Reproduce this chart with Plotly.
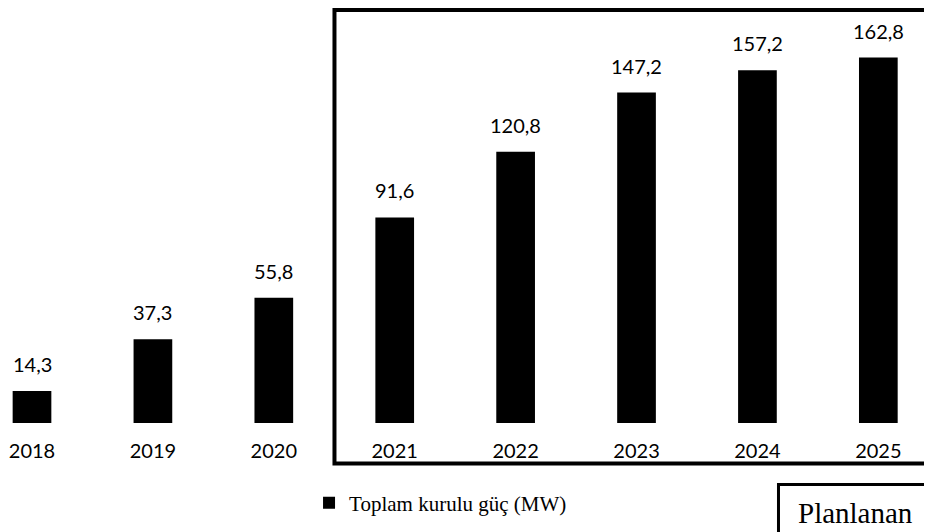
import plotly.graph_objects as go

years = ["2018", "2019", "2020", "2021", "2022", "2023", "2024", "2025"]
values = [14.3, 37.3, 55.8, 91.6, 120.8, 147.2, 157.2, 162.8]
labels = ["14,3", "37,3", "55,8", "91,6", "120,8", "147,2", "157,2", "162,8"]
series_name = "Toplam kurulu güç (MW)"
box_label = "Planlanan"

SANS = "Lato, Open Sans, sans-serif"
SERIF = "Liberation Serif, Times New Roman, serif"

fig = go.Figure()
fig.add_trace(go.Bar(
    x=years, y=values,
    marker=dict(color="black", line=dict(width=0)),
    width=0.32, name=series_name, showlegend=True,
))

# value labels above each bar (category index positions on the x axis)
for i, (v, t) in enumerate(zip(values, labels)):
    fig.add_annotation(x=i, y=v, xref="x", yref="y", text=t, showarrow=False,
                       yanchor="bottom", xanchor="center", yshift=13,
                       font=dict(family=SANS, size=20, color="black"))

fig.update_layout(
    width=932, height=532,
    margin=dict(l=0, r=0, t=0, b=117),
    plot_bgcolor="white", paper_bgcolor="white",
    xaxis=dict(type="category", range=[-0.1985, 7.51], showgrid=False, zeroline=False,
               showline=False, ticks="", ticklabelstandoff=14,
               tickfont=dict(family=SANS, size=20, color="black")),
    yaxis=dict(range=[0, 184.9], showticklabels=False, showgrid=False,
               zeroline=False, showline=False, ticks=""),
    showlegend=True,
    legend=dict(orientation="h", x=0.323, y=-0.193, xanchor="left", yanchor="middle",
                font=dict(family=SERIF, size=21, color="black"),
                itemwidth=30, bgcolor="rgba(0,0,0,0)"),
)

fig.add_shape(type="rect", xref="paper", yref="paper",
              x0=0.3503, x1=1.02, y0=-0.0976, y1=0.995,
              line=dict(color="black", width=4), fillcolor="rgba(0,0,0,0)")
fig.add_shape(type="rect", xref="paper", yref="paper",
              x0=0.8267, x1=1.02, y0=-0.294, y1=-0.1482,
              line=dict(color="black", width=3), fillcolor="rgba(0,0,0,0)")
fig.add_annotation(xref="paper", yref="paper", x=0.9088, y=-0.2169,
                   text=box_label, showarrow=False,
                   font=dict(family=SERIF, size=29, color="black"),
                   xanchor="center", yanchor="middle")

fig.write_html("out.html")
